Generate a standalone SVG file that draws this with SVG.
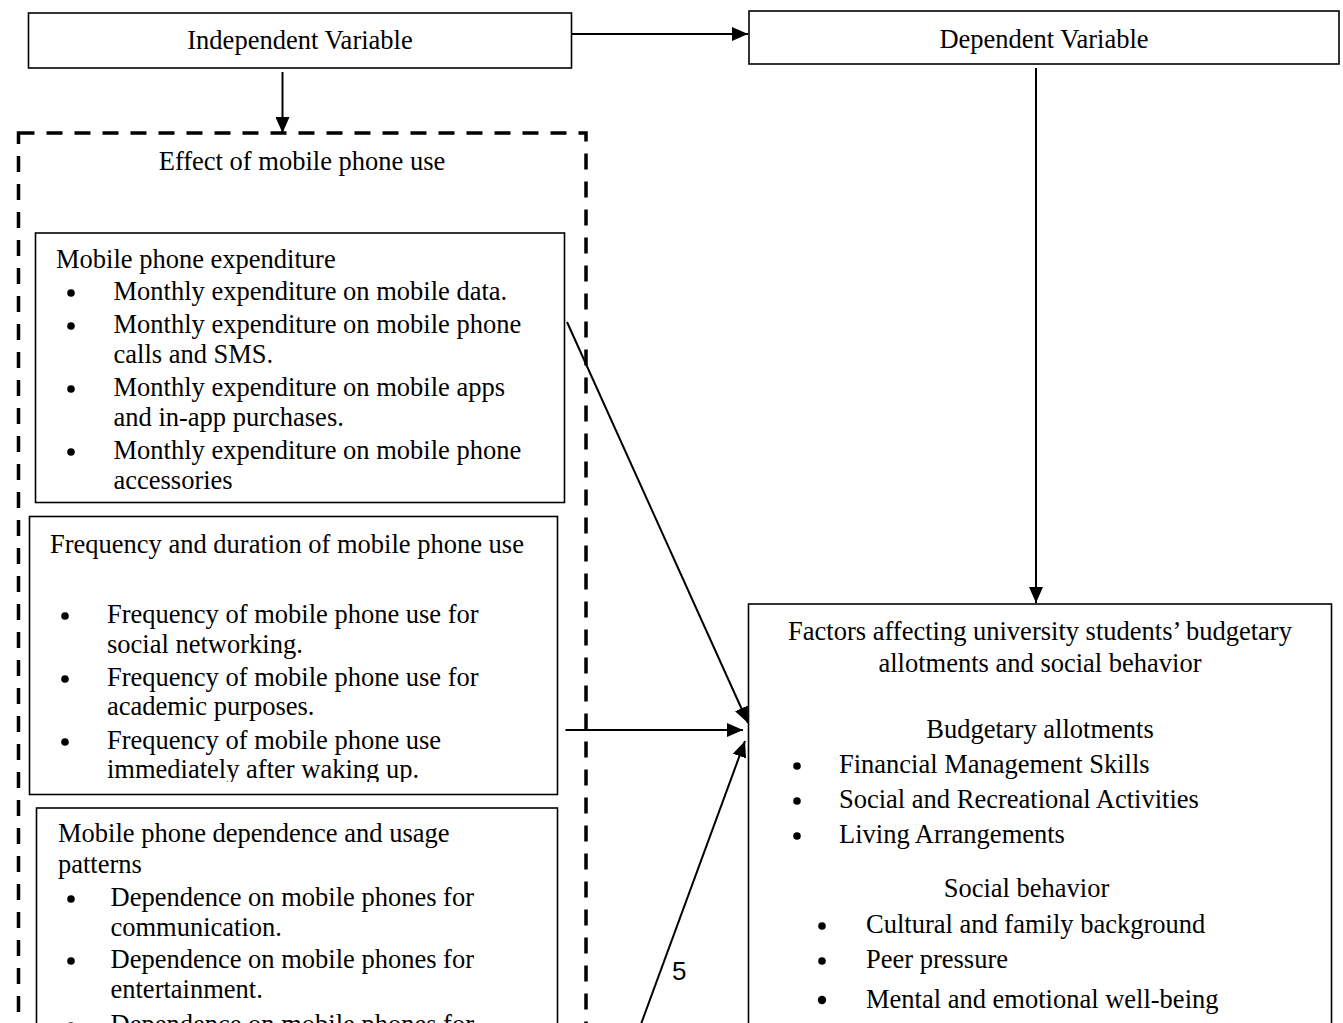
<svg xmlns="http://www.w3.org/2000/svg" width="1343" height="1023" viewBox="0 0 1343 1023">
<style>
.box{fill:#fff;stroke:#000;stroke-width:1.6}
.t{font-family:"Liberation Serif","Times New Roman",serif;font-size:26.5px;fill:#000}
.c{text-anchor:middle}
.b{fill:#000}
.conn{stroke:#000;stroke-width:2;fill:none}
.dash{fill:none;stroke:#000;stroke-width:3.5;stroke-dasharray:16 12}
.pg{font-family:"Liberation Sans",Arial,sans-serif;font-size:26px;fill:#000}
</style>
<defs>
<marker id="ah" markerUnits="userSpaceOnUse" markerWidth="16" markerHeight="14" refX="16" refY="7" orient="auto">
<path d="M0,0 L16,7 L0,14 Z" fill="#000"/>
</marker>
<clipPath id="clip2"><rect x="30" y="516" width="528" height="266"/></clipPath>
</defs>
<rect width="1343" height="1023" fill="#fff"/>

<g id="independent">
<rect class="box" x="28.5" y="13" width="543" height="55"/>
<text class="t c" x="300" y="49">Independent Variable</text>
</g>

<g id="dependent">
<rect class="box" x="749" y="11" width="590" height="53"/>
<text class="t c" x="1044" y="48">Dependent Variable</text>
</g>

<g id="effect-group">
<rect class="dash" x="18.5" y="133" width="567.5" height="950"/>
<text class="t c" x="302" y="170">Effect of mobile phone use</text>
</g>

<g id="expenditure">
<rect class="box" x="35.5" y="233" width="529" height="269.5"/>
<text class="t" x="56" y="268">Mobile phone expenditure</text>
<circle class="b" cx="71" cy="293" r="3.8"/><text class="t" x="113.5" y="300">Monthly expenditure on mobile data.</text>
<circle class="b" cx="71" cy="326" r="3.8"/><text class="t" x="113.5" y="333">Monthly expenditure on mobile phone</text>
<text class="t" x="113.5" y="363">calls and SMS.</text>
<circle class="b" cx="71" cy="389" r="3.8"/><text class="t" x="113.5" y="396">Monthly expenditure on mobile apps</text>
<text class="t" x="113.5" y="426">and in-app purchases.</text>
<circle class="b" cx="71" cy="452" r="3.8"/><text class="t" x="113.5" y="459">Monthly expenditure on mobile phone</text>
<text class="t" x="113.5" y="489">accessories</text>
</g>

<g id="frequency">
<rect class="box" x="29.5" y="516.5" width="528" height="278"/>
<text class="t" x="50" y="553">Frequency and duration of mobile phone use</text>
<g clip-path="url(#clip2)">
<circle class="b" cx="65" cy="616" r="3.8"/><text class="t" x="107" y="623">Frequency of mobile phone use for</text>
<text class="t" x="107" y="653">social networking.</text>
<circle class="b" cx="65" cy="679" r="3.8"/><text class="t" x="107" y="686">Frequency of mobile phone use for</text>
<text class="t" x="107" y="715">academic purposes.</text>
<circle class="b" cx="65" cy="742" r="3.8"/><text class="t" x="107" y="749">Frequency of mobile phone use</text>
<text class="t" x="107" y="778">immediately after waking up.</text>
</g>
</g>

<g id="dependence">
<rect class="box" x="36.5" y="808" width="521" height="260"/>
<text class="t" x="58" y="842">Mobile phone dependence and usage</text>
<text class="t" x="58" y="873">patterns</text>
<circle class="b" cx="71" cy="899" r="3.8"/><text class="t" x="110.5" y="906">Dependence on mobile phones for</text>
<text class="t" x="110.5" y="936">communication.</text>
<circle class="b" cx="71" cy="961" r="3.8"/><text class="t" x="110.5" y="968">Dependence on mobile phones for</text>
<text class="t" x="110.5" y="998">entertainment.</text>
<circle class="b" cx="71" cy="1026" r="3.8"/><text class="t" x="110.5" y="1033">Dependence on mobile phones for</text>
</g>

<g id="factors">
<rect class="box" x="748.5" y="604" width="583" height="480"/>
<text class="t c" x="1040" y="640">Factors affecting university students’ budgetary</text>
<text class="t c" x="1040" y="672">allotments and social behavior</text>
<text class="t c" x="1040" y="738">Budgetary allotments</text>
<circle class="b" cx="797" cy="766" r="3.8"/><text class="t" x="839" y="773">Financial Management Skills</text>
<circle class="b" cx="797" cy="801" r="3.8"/><text class="t" x="839" y="808">Social and Recreational Activities</text>
<circle class="b" cx="797" cy="836" r="3.8"/><text class="t" x="839" y="843">Living Arrangements</text>
<text class="t c" x="1026.5" y="897">Social behavior</text>
<circle class="b" cx="822" cy="926" r="3.8"/><text class="t" x="866" y="933">Cultural and family background</text>
<circle class="b" cx="822" cy="961" r="3.8"/><text class="t" x="866" y="968">Peer pressure</text>
<circle class="b" cx="822" cy="1000" r="4.2"/><text class="t" x="866" y="1008">Mental and emotional well-being</text>
</g>

<text class="pg" x="672" y="979.5">5</text>

<g id="connectors">
<line class="conn" x1="572" y1="34" x2="748" y2="34" marker-end="url(#ah)"/>
<line class="conn" x1="282.5" y1="72" x2="282.5" y2="133" marker-end="url(#ah)"/>
<line class="conn" x1="1036" y1="68" x2="1036" y2="603" marker-end="url(#ah)"/>
<line class="conn" x1="567" y1="322" x2="748" y2="723" marker-end="url(#ah)"/>
<line class="conn" x1="565.5" y1="730" x2="743" y2="730" marker-end="url(#ah)"/>
<line class="conn" x1="630" y1="1054" x2="745" y2="741" marker-end="url(#ah)"/>
</g>
</svg>
